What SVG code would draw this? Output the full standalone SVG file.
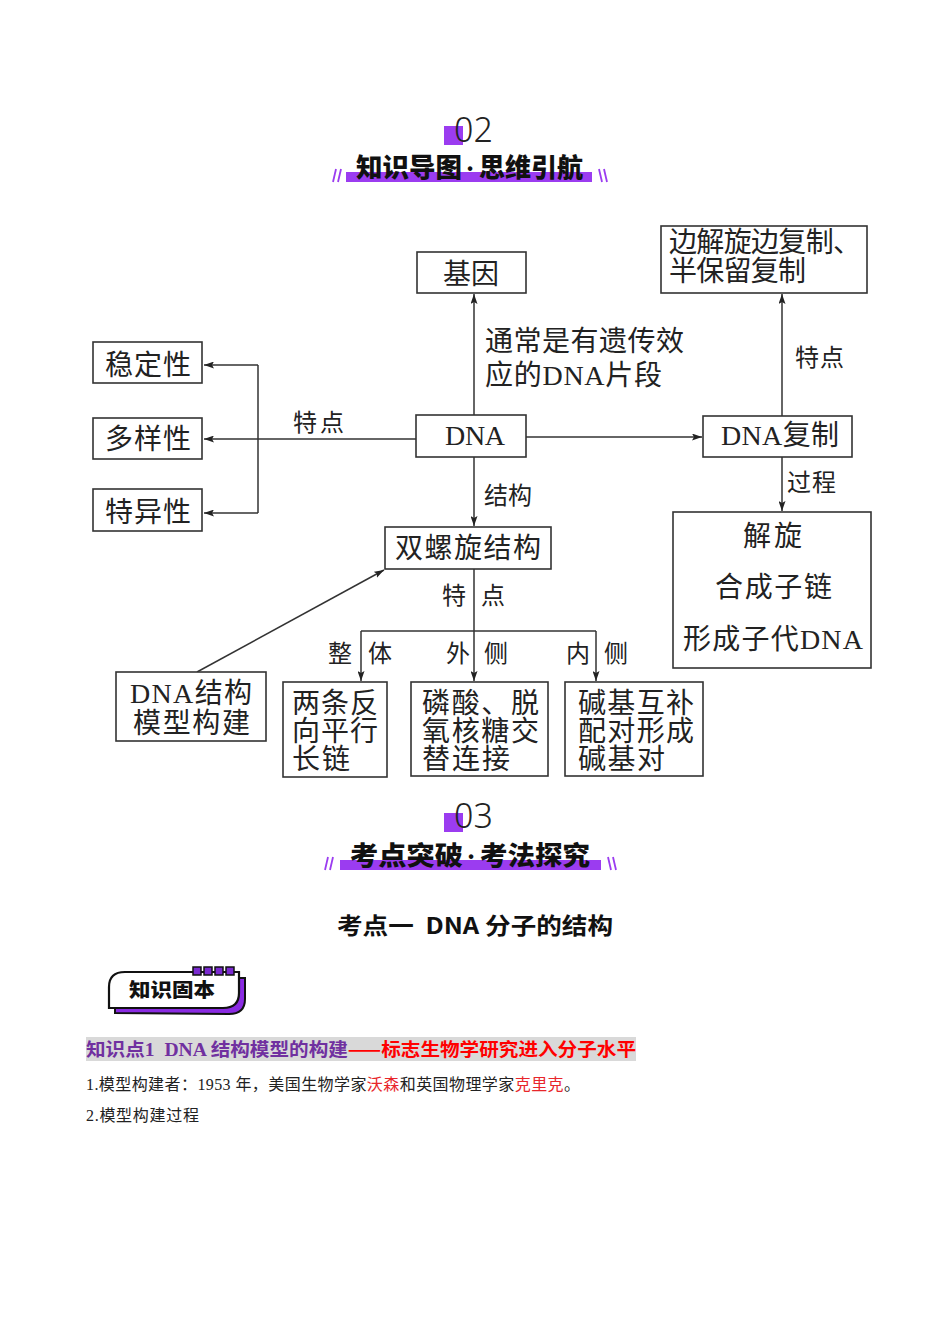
<svg xmlns="http://www.w3.org/2000/svg" width="950" height="1344" viewBox="0 0 950 1344">
<style>
.bg{fill:#ffffff}
.box{fill:#ffffff;stroke:#333;stroke-width:1.6}
.ln{fill:none;stroke:#333;stroke-width:1.5}
.t{font-family:"Liberation Serif","Noto Sans CJK SC",serif;fill:#222;font-size:28px}
.tl{font-family:"Liberation Serif","Noto Sans CJK SC",serif;fill:#222;font-size:24px}
.num{font-family:"Noto Sans","DejaVu Sans",sans-serif;font-weight:300;fill:#222;font-size:34px}
.hd{font-family:"Noto Sans CJK SC",sans-serif;font-weight:900;fill:#111;font-size:26px}
.dot{font-family:"Liberation Sans",sans-serif;font-weight:700;fill:#111;font-size:16px}
.pur{fill:#9b3cf0}
.sl{stroke:#9b3cf0;stroke-width:1.8}
.body{font-family:"Liberation Serif","Noto Sans CJK SC",serif;fill:#222;font-size:16px}
.red{fill:#e8262b}
</style>
<defs>
<marker id="ah" markerUnits="userSpaceOnUse" markerWidth="10" markerHeight="7" refX="10" refY="3.5" orient="auto">
<path d="M0,0 L10,3.5 L0,7 L2,3.5 Z" fill="#222"/>
</marker>
</defs>
<rect class="bg" width="950" height="1344"/>

<!-- Section 02 header -->
<g id="header02">
<rect class="pur" x="444" y="126" width="19" height="19"/>
<text class="num" x="454" y="142">02</text>
<rect class="pur" x="346" y="172" width="246" height="10"/>
<line class="sl" x1="333" y1="182" x2="336" y2="169"/>
<line class="sl" x1="338" y1="182" x2="341" y2="169"/>
<line class="sl" x1="599" y1="169" x2="602" y2="182"/>
<line class="sl" x1="604" y1="169" x2="607" y2="182"/>
<text class="hd" x="356" y="177" textLength="106" lengthAdjust="spacingAndGlyphs">知识导图</text>
<text class="dot" x="470" y="174" text-anchor="middle">•</text>
<text class="hd" x="479" y="177" textLength="104" lengthAdjust="spacingAndGlyphs">思维引航</text>
</g>

<!-- Connectors -->
<g id="connectors">
<line class="ln" x1="474" y1="415" x2="474" y2="294" marker-end="url(#ah)"/>
<line class="ln" x1="258" y1="365" x2="258" y2="513"/>
<line class="ln" x1="258" y1="365" x2="204" y2="365" marker-end="url(#ah)"/>
<line class="ln" x1="416" y1="439" x2="204" y2="439" marker-end="url(#ah)"/>
<line class="ln" x1="258" y1="513" x2="204" y2="513" marker-end="url(#ah)"/>
<line class="ln" x1="526" y1="437" x2="702" y2="437" marker-end="url(#ah)"/>
<line class="ln" x1="782" y1="416" x2="782" y2="294" marker-end="url(#ah)"/>
<line class="ln" x1="782" y1="457" x2="782" y2="511" marker-end="url(#ah)"/>
<line class="ln" x1="474" y1="457" x2="474" y2="526" marker-end="url(#ah)"/>
<line class="ln" x1="474" y1="569" x2="474" y2="681" marker-end="url(#ah)"/>
<line class="ln" x1="361" y1="631" x2="596" y2="631"/>
<line class="ln" x1="361" y1="631" x2="361" y2="681" marker-end="url(#ah)"/>
<line class="ln" x1="596" y1="631" x2="596" y2="681" marker-end="url(#ah)"/>
<line class="ln" x1="197" y1="672" x2="384" y2="570" marker-end="url(#ah)"/>
<line class="ln" x1="774" y1="551" x2="774" y2="575" marker-end="url(#ah)"/>
<line class="ln" x1="774" y1="601" x2="774" y2="626" marker-end="url(#ah)"/>
<text class="tl" x="293" y="431" textLength="51">特点</text>
<text class="tl" x="484" y="504" textLength="48">结构</text>
<text class="tl" x="795" y="366" textLength="49">特点</text>
<text class="tl" x="787" y="491" textLength="49">过程</text>
<text class="tl" x="442" y="604">特</text>
<text class="tl" x="481" y="604">点</text>
<text class="tl" x="328" y="662">整</text>
<text class="tl" x="368" y="662">体</text>
<text class="tl" x="446" y="662">外</text>
<text class="tl" x="484" y="662">侧</text>
<text class="tl" x="566" y="662">内</text>
<text class="tl" x="604" y="662">侧</text>
<text class="t" x="485" y="351" textLength="199">通常是有遗传效</text>
<text class="t" x="485" y="385" textLength="177">应的DNA片段</text>
</g>

<!-- Nodes -->
<g id="n-jiyin">
<rect class="box" x="417" y="252" width="109" height="41"/>
<text class="t" x="443" y="284" textLength="56">基因</text>
</g>
<g id="n-wending">
<rect class="box" x="93" y="342" width="109" height="41"/>
<text class="t" x="105" y="375" textLength="86">稳定性</text>
</g>
<g id="n-duoyang">
<rect class="box" x="93" y="418" width="109" height="41"/>
<text class="t" x="105" y="449" textLength="86">多样性</text>
</g>
<g id="n-teyi">
<rect class="box" x="93" y="489" width="109" height="42"/>
<text class="t" x="105" y="522" textLength="86">特异性</text>
</g>
<g id="n-dna">
<rect class="box" x="416" y="415" width="110" height="42"/>
<text class="t" x="445" y="445" textLength="60">DNA</text>
</g>
<g id="n-dnafuzhi">
<rect class="box" x="703" y="416" width="149" height="41"/>
<text class="t" x="721" y="445" textLength="118">DNA复制</text>
</g>
<g id="n-tedian">
<rect class="box" x="661" y="226" width="206" height="67"/>
<text class="t" x="669" y="252" textLength="192">边解旋边复制、</text>
<text class="t" x="669" y="281" textLength="137">半保留复制</text>
</g>
<g id="n-guocheng">
<rect class="box" x="673" y="512" width="198" height="156"/>
<text class="t" x="743" y="546" textLength="59">解旋</text>
<text class="t" x="715" y="597" textLength="117">合成子链</text>
<text class="t" x="683" y="649" textLength="180">形成子代DNA</text>
</g>
<g id="n-shuangluoxuan">
<rect class="box" x="385" y="527" width="166" height="42"/>
<text class="t" x="395" y="558" textLength="146">双螺旋结构</text>
</g>
<g id="n-moxing">
<rect class="box" x="116" y="672" width="150" height="69"/>
<text class="t" x="130" y="703" textLength="122">DNA结构</text>
<text class="t" x="133" y="733" textLength="117">模型构建</text>
</g>
<g id="n-zhengti">
<rect class="box" x="283" y="682" width="104" height="95"/>
<text class="t" x="292" y="713" textLength="86">两条反</text>
<text class="t" x="292" y="741" textLength="86">向平行</text>
<text class="t" x="292" y="769" textLength="58">长链</text>
</g>
<g id="n-waice">
<rect class="box" x="411" y="682" width="137" height="94"/>
<text class="t" x="422" y="713" textLength="117">磷酸、脱</text>
<text class="t" x="422" y="741" textLength="117">氧核糖交</text>
<text class="t" x="422" y="769" textLength="88">替连接</text>
</g>
<g id="n-neice">
<rect class="box" x="565" y="682" width="138" height="94"/>
<text class="t" x="578" y="713" textLength="116">碱基互补</text>
<text class="t" x="578" y="741" textLength="116">配对形成</text>
<text class="t" x="578" y="769" textLength="87">碱基对</text>
</g>

<!-- Section 03 header -->
<g id="header03">
<rect class="pur" x="444" y="813" width="19" height="19"/>
<text class="num" x="454" y="828">03</text>
<rect class="pur" x="340" y="860" width="261" height="10"/>
<line class="sl" x1="325" y1="870" x2="328" y2="857"/>
<line class="sl" x1="330" y1="870" x2="333" y2="857"/>
<line class="sl" x1="608" y1="857" x2="611" y2="870"/>
<line class="sl" x1="613" y1="857" x2="616" y2="870"/>
<text class="hd" x="350" y="865" textLength="113" lengthAdjust="spacingAndGlyphs">考点突破</text>
<text class="dot" x="471" y="862" text-anchor="middle">•</text>
<text class="hd" x="480" y="865" textLength="110" lengthAdjust="spacingAndGlyphs">考法探究</text>
</g>

<g id="title1">
<text xml:space="preserve" x="337" y="934" textLength="276" lengthAdjust="spacingAndGlyphs" style="font-family:'Noto Sans CJK SC',sans-serif;font-weight:700;font-size:23px;fill:#111;white-space:pre">考点一  DNA 分子的结构</text>
</g>

<g id="badge">
<path d="M115,1013 L115,992 Q115,978 130,978 L245,978 L245,999 Q245,1014 229,1014 Z" fill="#8a2be2" stroke="#111" stroke-width="2"/>
<path d="M109,1008 L109,987 Q109,972 125,972 L239,972 L239,993 Q239,1008 223,1008 Z" fill="#ffffff" stroke="#111" stroke-width="2.2"/>
<rect x="193" y="967" width="8" height="8" fill="#7a2ad0" stroke="#111" stroke-width="1.5"/>
<rect x="204" y="967" width="8" height="8" fill="#7a2ad0" stroke="#111" stroke-width="1.5"/>
<rect x="215" y="967" width="8" height="8" fill="#7a2ad0" stroke="#111" stroke-width="1.5"/>
<rect x="226" y="967" width="8" height="8" fill="#7a2ad0" stroke="#111" stroke-width="1.5"/>
<text x="129" y="997" textLength="86" lengthAdjust="spacingAndGlyphs" style="font-family:'Noto Sans CJK SC',sans-serif;font-weight:900;font-size:19px;fill:#111">知识固本</text>
</g>

<g id="kp1">
<rect x="86" y="1037" width="550" height="24" fill="#d9d9d9"/>
<text xml:space="preserve" x="86" y="1056" textLength="550" lengthAdjust="spacingAndGlyphs" style="font-family:'Liberation Serif','Noto Sans CJK SC',serif;font-weight:700;font-size:18px;white-space:pre"><tspan fill="#7030a0">知识点1  DNA 结构模型的构建</tspan><tspan fill="#ff0000" style="font-family:'Noto Sans CJK SC',sans-serif">——标志生物学研究进入分子水平</tspan></text>
</g>

<g id="body">
<text class="body" x="86" y="1090" textLength="494">1.模型构建者：1953 年，美国生物学家<tspan class="red">沃森</tspan>和英国物理学家<tspan class="red">克里克</tspan>。</text>
<text class="body" x="86" y="1121" textLength="113">2.模型构建过程</text>
</g>
</svg>
